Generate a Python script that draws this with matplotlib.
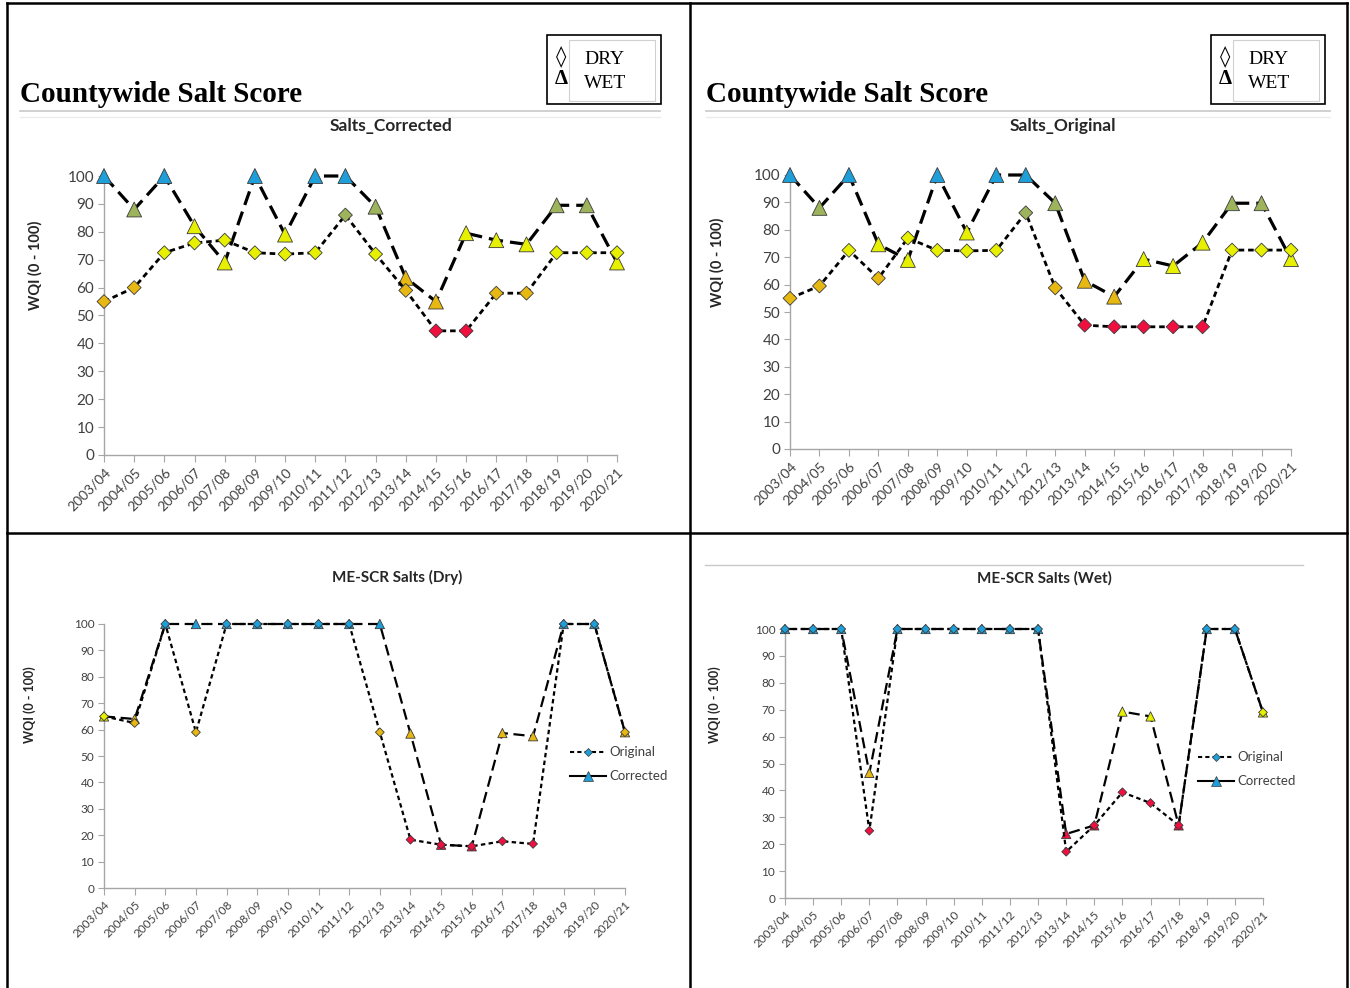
import matplotlib
matplotlib.use("Agg")
import matplotlib.pyplot as plt
from matplotlib.lines import Line2D
from matplotlib.patches import Rectangle

years = ['2003/04', '2004/05', '2005/06', '2006/07', '2007/08', '2008/09',
         '2009/10', '2010/11', '2011/12', '2012/13', '2013/14', '2014/15',
         '2015/16', '2016/17', '2017/18', '2018/19', '2019/20', '2020/21']

# countywide salt score (corrected)
corr_wet = [100, 88, 100, 82, 69, 100, 79, 100, 100, 89, 63.5, 55, 79.5, 77, 75.5, 89.5, 89.5, 69]
corr_dry = [55, 60, 72.5, 76, 77, 72.5, 72, 72.5, 86, 72, 59, 44.5, 44.5, 58, 58, 72.5, 72.5, 72.5]

# countywide salt score (original)
orig_wet = [100, 88, 100, 74.7, 69, 100, 79, 100, 100, 89.7, 61.4, 55.6, 69.3, 66.8, 75.3, 89.7, 89.7, 69.3]
orig_dry = [55, 59.5, 72.5, 62.3, 77, 72.5, 72.3, 72.5, 86.2, 58.8, 45.2, 44.6, 44.6, 44.6, 44.6, 72.6, 72.6, 72.6]

# ME-SCR salts
mescr_dry_orig = [65, 62.5, 100, 59, 100, 100, 100, 100, 100, 59, 18.3, 16.4, 15.8, 17.7, 16.7, 100, 100, 59]
mescr_dry_corr = [65, 64, 100, 100, 100, 100, 100, 100, 100, 100, 58.5, 16.4, 15.8, 58.7, 57.5, 100, 100, 59]
mescr_wet_orig = [100, 100, 100, 25, 100, 100, 100, 100, 100, 100, 17.2, 27, 39.3, 35.3, 27, 100, 100, 69]
mescr_wet_corr = [100, 100, 100, 46.5, 100, 100, 100, 100, 100, 100, 23.8, 27, 69.3, 67.5, 27, 100, 100, 69]

W, H = 1350, 988
BLUE = '#1F9FD9'
GREEN = '#9DB35C'
YELLOW = '#E6F000'
GOLD = '#E8B812'
RED = '#F01040'


def score_color(v):
    if v >= 95:
        return BLUE
    if v >= 85:
        return GREEN
    if v >= 65:
        return YELLOW
    if v >= 46:
        return GOLD
    return RED


def fx(px):
    return px / W


def fy(py):
    return 1 - py / H


def make_axes(fig, x0, x1, y0, y100, small=False):
    ax = fig.add_axes([fx(x0), fy(y0), fx(x1) - fx(x0), fy(y100) - fy(y0)])
    ax.set_xlim(0, len(years) - 1)
    ax.set_ylim(0, 100)
    for s in ['top', 'right']:
        ax.spines[s].set_visible(False)
    for s in ['left', 'bottom']:
        ax.spines[s].set_color('#A6A6A6')
        ax.spines[s].set_linewidth(1.0)
    ax.set_yticks(range(0, 101, 10))
    ax.set_xticks(range(len(years)))
    lab_size = 8.5 if small else 10
    ax.set_xticklabels(years, rotation=45, ha='right', rotation_mode='anchor',
                       fontsize=lab_size, family='Lato', color='#404040')
    ax.tick_params(axis='y', labelsize=(8.5 if small else 11), labelcolor='#404040',
                   color='#A6A6A6', length=4, pad=3)
    ax.tick_params(axis='x', color='#A6A6A6', length=5, pad=3)
    for t in ax.get_yticklabels():
        t.set_family('Lato')
    ax.patch.set_alpha(0)
    return ax


def series(ax, vals, marker, ls, lw, ms, z):
    x = list(range(len(vals)))
    ax.plot(x, vals, color='black', ls=ls, lw=lw, zorder=z, clip_on=False)
    ax.scatter(x, vals, marker=marker, s=ms, c=[score_color(v) for v in vals],
               edgecolors='#3A3A3A', linewidths=0.6, zorder=z + 1, clip_on=False)


fig = plt.figure(figsize=(W / 100, H / 100), dpi=100)

# table borders
border = dict(color='black', lw=1.8, transform=fig.transFigure)
fig.add_artist(Line2D([fx(7), fx(1347)], [fy(3), fy(3)], **border))
fig.add_artist(Line2D([fx(7), fx(7)], [fy(3), fy(988)], **border))
fig.add_artist(Line2D([fx(1347), fx(1347)], [fy(3), fy(988)], **border))
fig.add_artist(Line2D([fx(690), fx(690)], [fy(3), fy(988)], **border))
fig.add_artist(Line2D([fx(7), fx(1347)], [fy(533), fy(533)], **border))

# headers of the two top panels
for x0, x1, bx in [(20, 660, 547), (706, 1330, 1211)]:
    fig.text(fx(x0), fy(95), 'Countywide Salt Score', family='Liberation Serif',
             fontweight='bold', fontsize=21, va='center', ha='left')
    fig.add_artist(Line2D([fx(x0), fx(x1)], [fy(111), fy(111)], color='#C8C8C8', lw=1.2,
                          transform=fig.transFigure))
    fig.add_artist(Line2D([fx(x0), fx(x1)], [fy(117), fy(117)], color='#EBEBEB', lw=1.0,
                          transform=fig.transFigure))
    fig.add_artist(Rectangle((fx(bx), fy(104)), fx(114), 69 / H, fill=False, ec='black',
                             lw=1.2, transform=fig.transFigure))
    fig.add_artist(Rectangle((fx(bx + 22), fy(101)), fx(86), 61 / H, fill=False, ec='#D0D0D0',
                             lw=0.8, transform=fig.transFigure))
    fig.text(fx(bx + 14), fy(57), '\u25CA', family=['DejaVu Sans'], fontweight='bold',
             fontsize=15, ha='center', va='center')
    fig.text(fx(bx + 14), fy(79), '\u0394', family=['Liberation Serif'], fontweight='bold',
             fontsize=15, ha='center', va='center')
    fig.text(fx(bx + 37), fy(59), 'DRY', family='Liberation Serif', fontsize=14, va='center')
    fig.text(fx(bx + 37), fy(83), 'WET', family='Liberation Serif', fontsize=14, va='center')

# light frame line of bottom-right chart
fig.add_artist(Line2D([fx(705), fx(1303)], [fy(565), fy(565)], color='#C8C8C8', lw=1.0,
                      transform=fig.transFigure))

wet_ls = (0, (4.5, 2.2))
dry_ls = (0, (2.0, 1.4))

# top-left: corrected
ax1 = make_axes(fig, 104, 617, 455, 176)
series(ax1, corr_wet, '^', wet_ls, 2.3, 115, 3)
series(ax1, corr_dry, 'D', dry_ls, 2.0, 50, 5)

# top-right: original
ax2 = make_axes(fig, 790, 1291, 449, 175)
series(ax2, orig_wet, '^', wet_ls, 2.3, 115, 3)
series(ax2, orig_dry, 'D', dry_ls, 2.0, 50, 5)

# bottom-left: ME-SCR dry
ax3 = make_axes(fig, 104, 625, 888, 624, small=True)
series(ax3, mescr_dry_corr, '^', (0, (5, 2.5)), 1.6, 45, 3)
series(ax3, mescr_dry_orig, 'D', (0, (2.0, 1.5)), 1.6, 20, 5)

# bottom-right: ME-SCR wet
ax4 = make_axes(fig, 785, 1263, 898, 629, small=True)
series(ax4, mescr_wet_corr, '^', (0, (5, 2.5)), 1.6, 45, 3)
series(ax4, mescr_wet_orig, 'D', (0, (2.0, 1.5)), 1.6, 20, 5)

# chart titles and axis labels
fig.text(fx(391), fy(126), 'Salts_Corrected', family='Lato', fontweight='bold',
         fontsize=12.5, ha='center', va='center', color='#262626')
fig.text(fx(1063), fy(126), 'Salts_Original', family='Lato', fontweight='bold',
         fontsize=12.5, ha='center', va='center', color='#262626')
fig.text(fx(397), fy(577), 'ME-SCR Salts (Dry)', family='Lato', fontweight='bold',
         fontsize=11, ha='center', va='center', color='#262626')
fig.text(fx(1044), fy(578), 'ME-SCR Salts (Wet)', family='Lato', fontweight='bold',
         fontsize=11, ha='center', va='center', color='#262626')
for x, y, fs in [(35, 265, 10.5), (717, 262, 10.5), (30, 705, 9), (715, 705, 9)]:
    fig.text(fx(x), fy(y), 'WQI (0 - 100)', family='Lato', fontweight='bold', fontsize=fs,
             rotation=90, ha='center', va='center', color='#262626')

# legends for bottom charts
for lx, ly in [(570, 752), (1198, 757)]:
    for i, (name, marker, ls, ms) in enumerate([('Original', 'D', (0, (2, 1.5)), 4.5),
                                                ('Corrected', '^', '-', 6.5)]):
        yy = ly + 24 * i
        fig.add_artist(Line2D([fx(lx), fx(lx + 36)], [fy(yy), fy(yy)], color='black', lw=1.5,
                              ls=ls, transform=fig.transFigure))
        fig.add_artist(Line2D([fx(lx + 18)], [fy(yy)], marker=marker, ms=ms, mfc=BLUE,
                              mec='#3A3A3A', mew=0.5, transform=fig.transFigure))
        fig.text(fx(lx + 39), fy(yy), name, family='Lato', fontsize=9.5, va='center',
                 color='#404040')

fig.savefig('out.png', dpi=100)
